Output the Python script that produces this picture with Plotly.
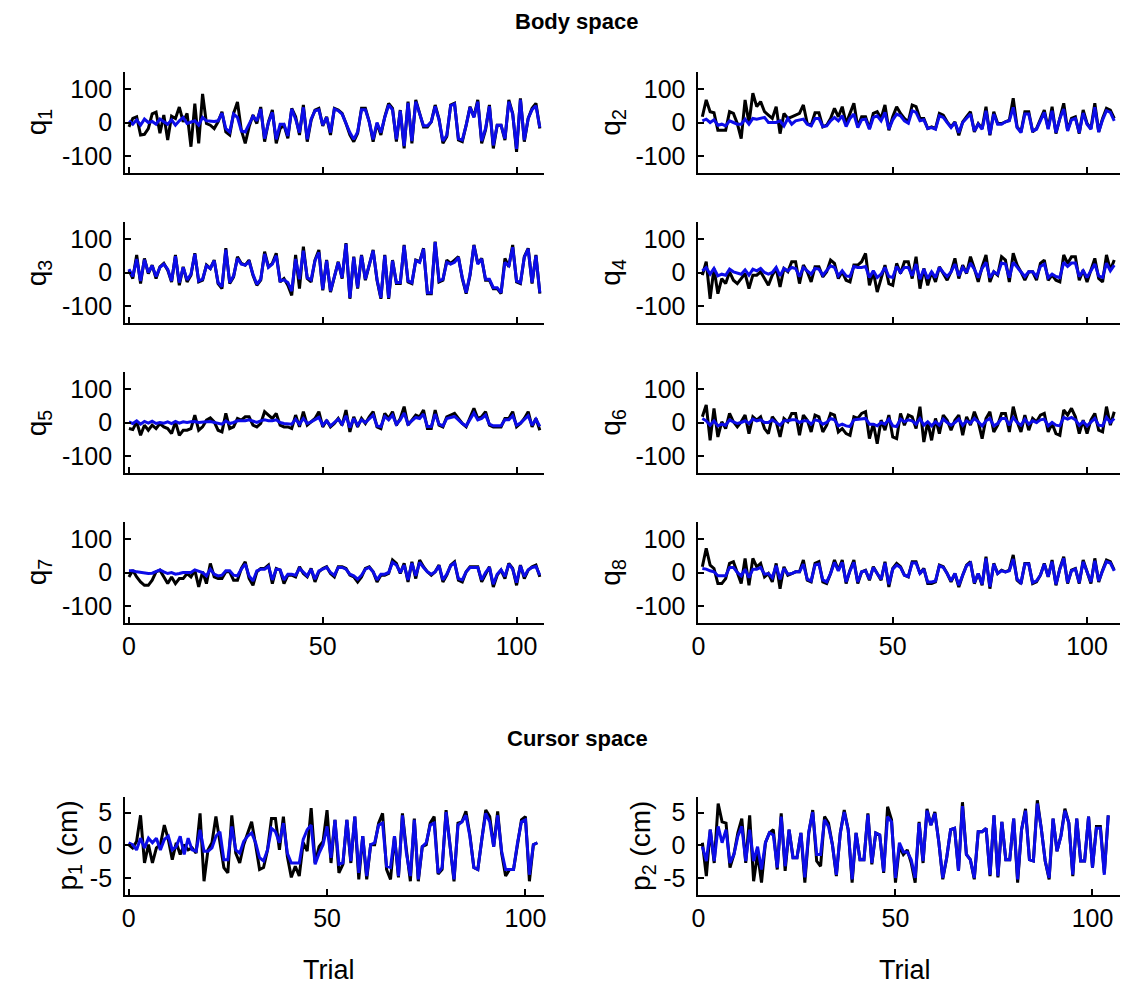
import plotly.graph_objects as go

W, H = 1131, 987

# ---------------- data ----------------
q1_black = [-13, 12, 17, -37, -35, -18, 26, 31, -32, 22, -52, 19, 12, 46, 2, 27, -72, 56, -62, 85,
            -3, -8, -18, 2, 32, -28, -37, 27, 61, -23, -62, -13, 22, -3, 46, -57, 2, 37, -62, -18,
            -8, -47, 42, 17, -37, 52, -57, 7, 37, 42, -10, 17, -37, 42, 37, 27, -3, -37, -57, -32,
            42, 42, 2, -57, -3, -37, 17, 57, 42, -57, 37, -77, 62, -62, 67, 27, -13, -13, 2, 52,
            10, -62, -42, 52, 57, -52, -57, -8, 47, 17, 67, -62, -22, 52, -77, -8, -8, -52, 67, 27,
            -87, 72, -57, 12, 42, 57, -18]
q1_blue = [5, -5, 8, -8, 10, 0, 3, -5, 10, 3, -5, 8, -8, 5, 15, -3, 2, 5, -8, 15,
           5, 3, 3, 5, 28, -18, -28, 25, 15, -25, -28, -5, 18, 5, 40, -48, 0, 30, -50, -5,
           -5, -40, 40, 10, -30, 45, -50, 10, 35, 38, -8, 15, -30, 40, 35, 25, -5, -30, -50, -28,
           38, 38, 2, -50, 0, -30, 15, 52, 38, -50, 35, -70, 58, -55, 62, 25, -10, -10, 2, 48,
           8, -55, -38, 50, 55, -48, -52, -8, 45, 15, 62, -55, -18, 48, -68, -8, -8, -48, 62, 25,
           -78, 68, -52, 12, 38, 50, -15]

q2_black = [17, 67, 32, 29, -23, -23, -23, 32, 27, -3, -48, 67, -3, 87, 47, 62, 32, 22, 12, 47,
            -33, 27, 12, 17, 22, 27, 52, -3, -8, 29, 29, -13, -8, 12, 42, 17, 47, -3, 27, 57,
            -13, 17, 17, -18, 27, 32, 12, 52, -23, 17, 47, 27, 12, 2, 52, 47, 12, 12, -18, -13,
            -18, 27, 22, 2, -13, 2, -38, 2, 17, 32, -28, -3, -18, 47, -38, 32, -3, -3, 2, 7,
            72, -13, -28, 32, 32, -28, -18, 7, 37, -18, 47, -33, 17, 57, -23, 12, 17, -33, 37, -3,
            -18, 57, -28, 12, 42, 37, 12]
q2_blue = [5, 10, 0, 8, -8, -5, -10, 5, 0, -5, -5, 10, -5, 12, 10, 12, 15, 0, 0, 0,
           5, -10, 12, -5, 5, 8, 10, -5, -10, 12, 12, -12, -10, 5, 15, 5, 20, -12, 12, 25,
           -15, 8, 10, -20, 15, 20, 5, 30, -20, 8, 25, 20, 5, -2, 35, 30, 5, 8, -18, -15,
           -20, 20, 15, 0, -15, 0, -30, 0, 12, 25, -25, -5, -20, 35, -35, 25, -5, -5, 2, 5,
           45, -15, -30, 25, 25, -25, -20, 5, 30, -20, 35, -30, 12, 40, -25, 8, 12, -30, 28, -5,
           -20, 45, -28, 8, 35, 30, 5]

q3_black = [7, -18, 52, -33, 42, -3, 22, -18, 17, 27, 7, -28, 52, -38, 17, -28, -8, 57, -28, -23,
            22, 12, 37, -33, -48, 72, -33, -13, 47, 27, 22, 37, -8, -38, -23, 62, 17, 27, 57, -28,
            -18, -38, -68, 52, -48, 77, -18, -28, 37, 67, -53, 37, -58, -13, 32, -18, 87, -78, 47, -48,
            52, -23, 27, 67, -23, -78, 52, -78, 37, -33, -33, 82, -28, -33, 37, 32, 72, -63, -63, 92,
            -28, -23, 37, 27, 37, 47, -18, -63, -8, 82, 27, 42, -23, -23, -48, -48, -63, 42, 17, 82,
            -28, -33, 47, 72, -33, 52, -63]
q3_blue = [10, -12, 40, -25, 38, 0, 20, -12, 15, 25, 10, -25, 48, -30, 15, -22, -5, 55, -25, -20,
           20, 12, 35, -30, -42, 68, -30, -10, 42, 25, 22, 32, -5, -35, -20, 55, 15, 25, 50, -25,
           -22, -30, -55, 40, -20, 65, -15, -22, 35, 60, -50, 35, -55, -10, 30, -15, 85, -75, 45, -45,
           50, -20, 25, 65, -20, -75, 50, -75, 35, -30, -30, 80, -25, -30, 35, 30, 70, -60, -60, 90,
           -25, -20, 30, 25, 30, 45, -15, -60, -5, 80, 25, 40, -20, -20, -45, -45, -60, 30, 20, 75,
           -25, -30, 45, 70, -30, 50, -60]

q4_black = [-8, 32, -78, 12, -63, -18, -33, 2, -23, -33, -18, -3, -48, -8, -8, 2, -18, -38, -8, 12,
            -43, 12, 2, 32, 32, -33, 22, 2, -28, 17, 17, -13, 2, 37, 27, -18, 2, -23, -28, 22,
            22, 32, 57, -38, 2, -58, -18, 22, -33, -38, 27, -3, 32, 32, -18, 47, -48, 12, -38, 2,
            -28, 17, -3, -23, 2, 42, -18, 22, -3, 47, 12, -28, 17, 52, -28, 2, -8, 47, 37, -28,
            57, 22, 2, -23, 2, 2, -23, 27, 37, -23, -8, -23, -28, 52, 27, 47, 47, -23, 7, -28,
            7, 42, -18, -28, 52, 7, 37]
q4_blue = [5, 15, -5, 12, -10, -5, -8, 10, 2, -2, -5, 8, -8, 10, 5, 12, 0, -5, 0, 15,
           -10, 12, 5, 15, 12, -12, 15, 5, -5, 12, 10, -8, 5, 20, 15, -10, 5, -10, -12, 18,
           15, 15, 18, -15, 5, -15, -5, 15, -12, -15, 18, 0, 15, 15, -10, 25, -20, 10, -18, 2,
           -15, 15, 0, -12, 2, 25, -10, 15, 0, 28, 10, -15, 12, 30, -15, 2, -5, 28, 25, -15,
           30, 15, 2, -12, 2, 2, -12, 18, 25, -15, -5, -12, -15, 30, 18, 28, 28, -12, 5, -15,
           5, 25, -10, -15, 28, 5, 22]

q5_black = [-18, -21, 2, -38, -8, -23, -8, -18, -3, -13, -18, -33, 2, -38, -23, -23, -18, 22, -23, -13,
            7, 14, 2, -23, -28, 27, -18, -13, 12, 7, 17, 17, -8, -13, -3, 32, 22, 12, 27, -8,
            -13, -13, -18, 22, -13, 32, -8, 2, 12, 32, -13, 7, -13, -3, 12, -8, 37, -28, 17, -13,
            12, -3, 17, 32, -13, -18, 27, 12, 32, -8, 12, 47, -8, 7, 22, 17, 37, -18, -18, 37,
            -8, -13, 17, 22, 27, 12, -3, -13, 12, 42, 12, 17, 32, -8, -13, -13, -13, 12, 12, 32,
            -13, -3, 12, 32, -13, 12, -23]
q5_blue = [2, -3, 5, -5, 3, -2, 4, -3, 0, -2, 2, -3, 3, -2, 2, 0, 2, 3, 0, 2,
           2, 3, 0, -3, -5, 5, -3, 0, 5, 5, 5, 8, 3, 0, 5, 8, 5, 5, 8, 0,
           -3, -3, -5, 10, -5, 12, -3, 2, 8, 15, -8, 5, -10, 0, 10, -5, 20, -15, 12, -8,
           8, 0, 12, 22, -10, -12, 18, 8, 22, -5, 8, 28, -5, 5, 15, 12, 25, -12, -12, 25,
           -5, -10, 12, 15, 18, 8, -3, -10, 8, 28, 8, 12, 22, -5, -10, -10, -10, 8, 8, 20,
           -8, -2, 8, 20, -8, 10, -12]

q6_black = [17, 52, -53, 42, -43, 2, -18, 27, 2, -13, 2, 22, -33, 17, 7, 17, -18, -33, 17, 2,
            -43, 12, 2, 27, 27, -38, 22, 7, -28, 22, 17, -28, -8, 27, 22, -28, -18, -33, -38, 17,
            12, 27, 32, -48, -3, -63, 7, -23, 22, -43, -48, 27, -8, 22, 17, -18, 47, -58, 2, -53,
            12, -33, 22, 7, -23, 7, 22, -38, 17, -8, 32, 2, -48, 12, 32, -28, -8, 27, 27, -28,
            47, 2, -28, 22, -23, 12, 2, 22, 27, -28, -3, -33, -38, 37, 22, 42, 17, -33, 7, -33,
            7, 27, -23, -28, 47, -8, 32]
q6_blue = [12, 5, -8, 5, -10, -5, -8, 8, 2, -3, 0, 5, -3, 10, 5, 8, 0, 0, 8, 0,
           -8, 5, 5, 8, 8, 0, 5, 5, -5, 8, 5, -5, 0, 12, 8, -10, -5, -10, -12, 8,
           10, 10, 12, -5, -5, -10, 0, -5, 10, -10, -12, 10, 2, 8, 5, -5, 12, -8, 2, -10,
           2, -8, 10, 0, -8, 0, 10, -8, 5, -2, 12, 2, -10, 5, 12, -10, -3, 12, 12, -8,
           15, 0, -8, 10, -5, 5, 0, 8, 10, -10, 0, -8, -10, 15, 10, 15, 8, -8, 2, -10,
           2, 12, -8, -10, 15, 0, 12]

q7_black = [-13, 7, -13, -28, -38, -38, -23, 2, 7, -13, -33, -13, -33, -18, -18, -3, -13, 7, -43, 2,
            -33, 27, -13, -18, -18, 2, 2, -23, -23, 12, 32, -18, -38, 2, 12, 12, 22, -33, 12, 7,
            -33, -8, -8, -13, 17, -3, -13, 12, -28, 2, 12, 17, -3, -13, 17, 17, 12, -8, -13, -28,
            -13, 12, 17, 2, -28, -8, -8, -3, 37, 27, -3, 27, -28, 32, -18, 37, 17, 2, -8, 2,
            22, -28, -8, 22, 32, -23, -28, 2, 17, 17, 17, -28, -3, 17, -43, -8, 7, -18, 27, 12,
            -38, 22, -18, 7, 17, 22, -13]
q7_blue = [5, 5, 2, 0, -2, -3, -2, 2, 8, 2, -3, 0, -5, -3, 0, 0, 0, 8, 5, 0,
           -10, 10, -5, -10, -8, 5, 5, -8, -10, 10, 25, -10, -25, 5, 10, 10, 18, -22, 10, 8,
           -22, -5, -5, -8, 12, 0, -10, 10, -20, 5, 10, 15, 0, -8, 15, 15, 10, -5, -10, -20,
           -8, 10, 15, 2, -22, -5, -5, 0, 30, 22, 0, 22, -22, 28, -10, 30, 15, 2, -5, 2,
           20, -22, -5, 20, 28, -18, -22, 2, 15, 15, 15, -22, 0, 15, -35, -5, 8, -12, 25, 10,
           -30, 20, -12, 8, 15, 18, -8]

q8_black = [17, 72, 22, 12, -33, -33, -18, 27, 32, -3, -33, 42, -38, 42, 17, 27, -13, -3, -28, 27,
            -48, 17, -8, -3, 2, 2, 37, -23, -28, 27, 32, -28, -33, -3, 37, 7, 37, -33, 7, 37,
            -33, 2, 7, -23, 17, -3, -23, 32, -43, 12, 27, 17, -8, -13, 32, 32, -3, 12, -33, -33,
            -28, 22, 17, -3, -28, -3, -43, -8, 22, 32, -33, -3, -38, 47, -48, 27, -3, 7, 2, 7,
            52, -23, -33, 27, 27, -33, -28, -8, 27, -13, 37, -38, 12, 47, -33, 7, 12, -33, 37, 2,
            -33, 42, -28, 7, 37, 32, 7]
q8_blue = [12, 10, 5, 2, -10, -10, -10, 15, 15, 0, -10, 10, -15, 10, 10, 15, -5, -3, -15, 20,
           -20, 12, -5, -3, 2, 2, 25, -20, -25, 22, 25, -22, -28, -3, 30, 5, 30, -28, 5, 30,
           -28, 2, 5, -20, 15, -3, -20, 28, -35, 10, 22, 15, -8, -12, 28, 28, -3, 10, -28, -28,
           -25, 20, 15, -3, -25, -3, -38, -8, 20, 28, -30, -3, -35, 42, -42, 25, -3, 5, 2, 5,
           40, -20, -30, 25, 25, -30, -25, -8, 25, -12, 32, -35, 10, 42, -30, 5, 10, -30, 32, 2,
           -28, 35, -25, 5, 32, 28, 5]

p1_black = [0.1, -0.4, 0.6, 4.6, -2.7, 0.1, -2.7, -0.4, 0.1, 3.1,
            0.9, -2.2, 0.4, -1.4, 0.1, -0.7, -0.4, -1.2, 4.9, -5.5,
            -0.7, 0.4, 4.4, 0.4, -3.4, -4.2, 4.6, -1.2, -2.7, 0.1,
            1.9, 3.6, 0.1, -3.7, -3.4, -0.7, 4.1, 4.1, -0.7, 4.4,
            -1.7, -4.9, -3.2, -4.7, 0.4, -0.9, 5.7, -2.7, -0.2, 0.6,
            5.4, -2.7, 3.9, -4.2, -2.9, 3.9, -2.7, 4.4, -5.2, 1.4,
            -5.2, 0.1, 0.1, 3.4, 4.9, -3.7, -5.2, 1.4, -4.9, 4.9,
            -0.7, -5.5, 4.1, -5.5, -0.2, 0.1, 3.4, 4.4, -4.4, -3.7,
            5.4, 0.1, -5.5, 3.4, 3.6, 5.2, 1.6, -3.4, -3.7, 0.9,
            5.4, 4.4, -0.2, 5.2, -1.2, -4.7, -3.7, -3.7, 0.4, 3.9,
            4.4, -5.5, 0.1, 0.4]
p1_blue = [0.4, 0.1, -0.7, 1.1, -0.4, 1.1, 0.4, 1.1, -0.7, 0.9,
           1.4, -0.7, -0.2, 1.4, -1.4, 1.1, -0.7, -0.9, 2.4, -0.9,
           -0.9, -0.4, 1.4, 2.1, -2.2, -2.2, 2.9, -0.7, -1.2, 0.6,
           1.4, 1.9, 0.4, -1.9, -2.4, -0.7, 2.6, 2.1, 0.4, 3.4,
           -1.2, -2.7, -2.7, -2.7, 0.9, 2.4, 3.1, -2.9, -1.2, 0.1,
           2.9, -1.9, 3.9, -2.9, -2.7, 3.9, -2.4, 4.4, -4.2, 1.4,
           -4.7, 0.1, 0.4, 3.1, 3.4, -3.2, -3.4, 1.4, -4.7, 4.6,
           -1.2, -4.7, 3.9, -5.2, -0.2, 0.4, 3.1, 3.4, -4.2, -3.4,
           5.1, 0.1, -5.2, 3.1, 3.6, 4.6, 1.4, -3.4, -3.7, 0.9,
           4.9, 3.6, -0.2, 4.6, -0.9, -3.7, -3.7, -3.7, 0.4, 3.6,
           3.9, -4.5, 0.1, 0.4]

p2_black = [0.4, -4.7, 2.4, -2.7, 6.4, 3.6, 3.4, -3.4, -1.4, 1.9,
            4.1, -2.7, 4.6, -5.5, -1.2, -5.7, 0.4, 1.9, 2.4, -3.7,
            4.9, -3.9, 2.4, -1.9, -1.9, 1.9, -5.7, 1.9, 5.4, -2.4,
            -3.2, 4.4, 3.4, 0.1, -4.7, 1.9, 5.4, 2.4, -5.7, 1.9,
            -2.2, -2.2, 4.9, -2.9, 1.9, 1.6, -4.2, 5.9, 3.9, -5.7,
            -0.2, -1.4, -0.7, -2.7, -5.7, 3.6, -2.7, 5.6, 3.1, 5.1,
            0.5, -5.2, -1.9, 2.4, 2.6, -3.9, 6.6, -1.4, -2.2, -5.2,
            2.1, 2.1, 2.6, -4.7, 4.6, -4.9, 3.6, -2.2, -2.2, 4.1,
            -5.7, 2.4, 5.6, -2.2, -2.4, 6.9, 2.6, -2.4, -5.2, 4.1,
            -0.9, 1.5, 5.6, 3.4, -4.7, 4.1, -2.4, -2.4, 4.4, -3.4,
            2.9, 2.9, -4.2, 4.6]
p2_blue = [-0.2, -2.4, 2.4, -2.4, 2.9, 0.4, 2.4, -2.7, -1.4, 1.4,
           2.9, -2.4, 2.4, -2.4, -0.2, -3.7, 0.4, 1.9, 1.6, -3.4,
           4.4, -3.2, 2.4, -1.9, -1.9, 1.9, -4.9, 2.1, 5.1, -1.4,
           -1.4, 3.9, 2.9, 0.1, -4.5, 1.9, 5.1, 2.4, -5.2, 1.9,
           -2.2, -2.2, 4.7, -2.7, 1.9, 1.6, -4.0, 4.4, 3.6, -5.0,
           0.4, -1.0, -1.0, -2.2, -5.0, 3.4, -2.4, 5.3, 3.1, 4.9,
           0.5, -5.0, -1.9, 2.4, 2.6, -3.9, 6.0, -1.4, -2.2, -5.0,
           2.1, 2.1, 2.6, -4.5, 4.6, -4.7, 3.6, -2.2, -2.2, 4.1,
           -5.2, 2.4, 5.3, -2.2, -2.4, 6.4, 2.6, -2.4, -5.0, 4.1,
           -0.9, 1.4, 5.3, 3.4, -4.5, 4.1, -2.4, -2.4, 4.4, -3.4,
           2.6, 2.6, -4.5, 4.6]

q_labels = ["q<sub>1</sub>", "q<sub>2</sub>", "q<sub>3</sub>", "q<sub>4</sub>",
            "q<sub>5</sub>", "q<sub>6</sub>", "q<sub>7</sub>", "q<sub>8</sub>"]
p_labels = ["p<sub>1</sub> (cm)", "p<sub>2</sub> (cm)"]
q_yticks = [-100, 0, 100]
q_yticktext = ["-100", "0", "100"]
p_yticks = [-5, 0, 5]
p_yticktext = ["-5", "0", "5"]
x_ticks = [0, 50, 100]
x_ticktext = ["0", "50", "100"]
titles = ["Body space", "Cursor space"]
x_title = "Trial"

# ---------------- layout geometry (pixels) ----------------
FONT = "Liberation Sans, Arial, Helvetica, sans-serif"
BLACK = "#000000"
BLUE = "#0c0ce8"

left_col = (119, 541)
right_col = (697, 1122)
q_rows = [(72, 173), (222, 323), (372, 473), (522, 623)]
p_row = (797, 895)

q_black = [q1_black, q2_black, q3_black, q4_black, q5_black, q6_black, q7_black, q8_black]
q_blue = [q1_blue, q2_blue, q3_blue, q4_blue, q5_blue, q6_blue, q7_blue, q8_blue]

panels = []
for i in range(8):
    col = i % 2
    row = i // 2
    panels.append(dict(
        label=q_labels[i], black=q_black[i], blue=q_blue[i],
        xcol=left_col if col == 0 else right_col, yrow=q_rows[row],
        x0=0 if col == 0 else 1,
        xrange=[-1, 107] if col == 0 else [0, 108.5],
        yrange=[-150, 150], yt=q_yticks, ytt=q_yticktext,
        showx=(row == 3), labx=32 if col == 0 else 610))
panels.append(dict(label=p_labels[0], black=p1_black, blue=p1_blue, xcol=left_col, yrow=p_row,
                   x0=0, xrange=[-0.9, 104.6], yrange=[-7.6, 7.4], yt=p_yticks, ytt=p_yticktext,
                   showx=True, labx=62))
panels.append(dict(label=p_labels[1], black=p2_black, blue=p2_blue, xcol=right_col, yrow=p_row,
                   x0=1, xrange=[0, 107], yrange=[-7.6, 7.4], yt=p_yticks, ytt=p_yticktext,
                   showx=True, labx=640))

fig = go.Figure()
layout = dict(width=W, height=H, margin=dict(l=0, r=0, t=0, b=0),
              paper_bgcolor="white", plot_bgcolor="white", showlegend=False,
              font=dict(family=FONT, color="black", size=25))
annotations = []
for k, p in enumerate(panels, start=1):
    n = len(p["black"])
    xs = list(range(p["x0"], p["x0"] + n))
    xa = "x" if k == 1 else f"x{k}"
    ya = "y" if k == 1 else f"y{k}"
    fig.add_trace(go.Scatter(x=xs, y=p["black"], mode="lines", xaxis=xa, yaxis=ya,
                             line=dict(color=BLACK, width=3), hoverinfo="skip"))
    fig.add_trace(go.Scatter(x=xs, y=p["blue"], mode="lines", xaxis=xa, yaxis=ya,
                             line=dict(color=BLUE, width=3), hoverinfo="skip"))
    common = dict(showline=True, linecolor="black", linewidth=2, ticks="inside", ticklen=6,
                  tickwidth=2, tickcolor="black", showgrid=False, zeroline=False,
                  tickfont=dict(family=FONT, size=25, color="black"), fixedrange=True)
    layout["xaxis" if k == 1 else f"xaxis{k}"] = dict(
        domain=[p["xcol"][0] / W, p["xcol"][1] / W], range=p["xrange"],
        anchor=ya, tickvals=x_ticks, ticktext=x_ticktext, showticklabels=p["showx"],
        ticklabelstandoff=0, **common)
    layout["yaxis" if k == 1 else f"yaxis{k}"] = dict(
        domain=[1 - p["yrow"][1] / H, 1 - p["yrow"][0] / H], range=p["yrange"],
        anchor=xa, tickvals=p["yt"], ticktext=p["ytt"], ticklabelstandoff=6, **common)
    annotations.append(dict(text=p["label"], textangle=-90, showarrow=False,
                            xref="paper", yref="paper", x=p["labx"] / W,
                            y=1 - (p["yrow"][0] + p["yrow"][1]) / 2 / H,
                            xanchor="center", yanchor="middle",
                            font=dict(family=FONT, size=28, color="black")))

annotations.append(dict(text=f"<b>{titles[0]}</b>", showarrow=False, xref="paper", yref="paper",
                        x=575 / W, y=1 - 22 / H, xanchor="center", yanchor="middle",
                        font=dict(family=FONT, size=22, color="black")))
annotations.append(dict(text=f"<b>{titles[1]}</b>", showarrow=False, xref="paper", yref="paper",
                        x=575 / W, y=1 - 738 / H, xanchor="center", yanchor="middle",
                        font=dict(family=FONT, size=22, color="black")))
for xc in (325, 905):
    annotations.append(dict(text=x_title, showarrow=False, xref="paper", yref="paper",
                            x=xc / W, y=1 - 970 / H, xanchor="center", yanchor="middle",
                            font=dict(family=FONT, size=27, color="black")))
layout["annotations"] = annotations
fig.update_layout(**layout)
fig.write_html("out.html")
